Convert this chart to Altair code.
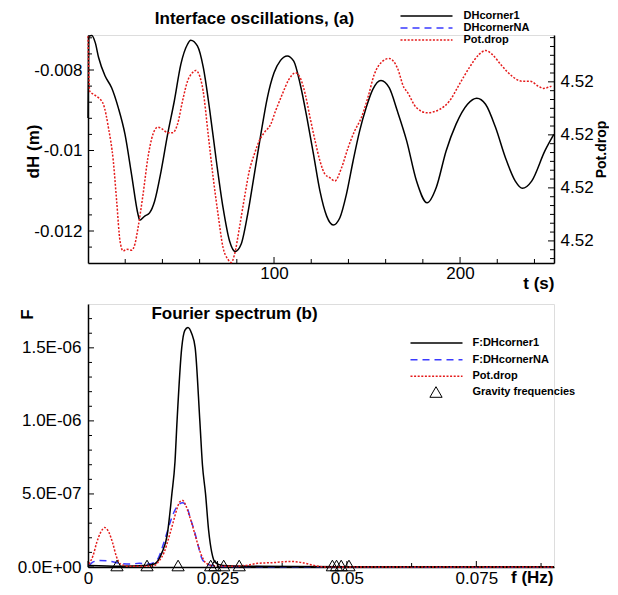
import altair as alt
import pandas as pd

# ---------------- Panel (a): interface oscillations ----------------
t_dh = [0.0, 0.4, 2.1, 3.9, 5.7, 9.2, 12.7, 16.3, 19.9, 23.4, 26.9, 27.8, 30.5, 33.1,
        35.8, 39.3, 42.8, 46.4, 49.9, 53.5, 55.2, 58.8, 62.0, 65.5, 69.0, 72.6, 76.1,
        79.1, 82.3, 85.8, 89.4, 92.9, 96.4, 100.0, 103.5, 107.1, 110.6, 114.1, 117.7,
        121.2, 124.7, 128.3, 131.8, 135.4, 138.9, 142.5, 146.0, 149.5, 153.1, 157.5,
        161.9, 166.3, 171.3, 176.6, 182.3, 187.2, 192.5, 197.8, 204.0, 209.0, 213.7,
        219.1, 224.4, 229.7, 233.5, 238.5, 245.6, 250.4]
dh_corner1 = [-0.00919, -0.00716, -0.00714, -0.00732, -0.00769, -0.00815, -0.00844,
              -0.00894, -0.00960, -0.01059, -0.01159, -0.01173, -0.01163, -0.01155,
              -0.01126, -0.01051, -0.00960, -0.00877, -0.00786, -0.00736, -0.00726,
              -0.00740, -0.00794, -0.00902, -0.01026, -0.01142, -0.01225, -0.01251,
              -0.01233, -0.01159, -0.01059, -0.00960, -0.00869, -0.00807, -0.00776,
              -0.00765, -0.00778, -0.00836, -0.00919, -0.01009, -0.01101, -0.01163,
              -0.01185, -0.01167, -0.01109, -0.01026, -0.00952, -0.00894, -0.00848,
              -0.00826, -0.00844, -0.00902, -0.00976, -0.01076, -0.01130, -0.01092,
              -0.01001, -0.00935, -0.00885, -0.00870, -0.00885, -0.00943, -0.01018,
              -0.01076, -0.01094, -0.01076, -0.01001, -0.00960]

t_pot = [0.0, 0.9, 3.0, 5.7, 8.3, 11.0, 13.6, 15.4, 17.2, 18.9, 20.7, 23.4, 25.2, 26.9,
         29.6, 32.2, 34.9, 37.5, 40.2, 42.8, 45.5, 48.1, 50.8, 53.5, 56.1, 57.9, 59.7,
         61.9, 64.6, 67.3, 69.9, 72.6, 75.2, 77.0, 78.8, 81.4, 84.1, 86.7, 89.4, 92.0,
         94.7, 98.2, 100.8, 104.4, 108.0, 111.5, 114.1, 116.8, 119.4, 122.1, 124.7,
         127.4, 130.0, 132.7, 136.3, 139.8, 143.3, 146.9, 150.4, 153.9, 158.4, 161.9,
         166.3, 169.9, 171.3, 176.6, 182.3, 189.0, 194.3, 199.6, 204.9, 210.2, 213.7,
         217.3, 222.6, 227.9, 233.2, 237.6, 242.0, 244.7, 249.1]
pot_drop = [4.5202317, 4.5201695, 4.5201658, 4.5201619, 4.5201545, 4.5201280, 4.5200904,
            4.5200452, 4.5200000, 4.5199887, 4.5199906, 4.5199895, 4.5199963, 4.5200150,
            4.5200528, 4.5200941, 4.5201206, 4.5201288, 4.5201262, 4.5201224, 4.5201224,
            4.5201319, 4.5201582, 4.5201808, 4.5201902, 4.5201929, 4.5201884, 4.5201695,
            4.5201206, 4.5200715, 4.5200302, 4.5199924, 4.5199793, 4.5199755, 4.5199850,
            4.5200150, 4.5200489, 4.5200791, 4.5200980, 4.5201130, 4.5201224, 4.5201319,
            4.5201469, 4.5201658, 4.5201827, 4.5201902, 4.5201845, 4.5201658, 4.5201393,
            4.5201130, 4.5200904, 4.5200754, 4.5200715, 4.5200678, 4.5200828, 4.5201054,
            4.5201243, 4.5201393, 4.5201619, 4.5201884, 4.5202034, 4.5202065, 4.5201958,
            4.5201732, 4.5201695, 4.5201506, 4.5201450, 4.5201488, 4.5201582, 4.5201771,
            4.5201958, 4.5202110, 4.5202155, 4.5202110, 4.5201978, 4.5201865, 4.5201808,
            4.5201808, 4.5201752, 4.5201726, 4.5201752]

# ---------------- Panel (b): Fourier spectrum ----------------
f_corner1 = [0.0002, 0.0061, 0.0109, 0.0128, 0.0143, 0.0153, 0.0162, 0.0168, 0.0172,
             0.0181, 0.0187, 0.0193, 0.0200, 0.0207, 0.0216, 0.0221, 0.0227, 0.0233,
             0.0239, 0.0246, 0.0261, 0.0309, 0.0400, 0.0600, 0.0900]
F_corner1 = [1.0e-8, 5e-9, 1.0e-8, 2.0e-8, 1.0e-7, 2.2e-7, 5.0e-7, 7.2e-7, 1.0e-6,
             1.5e-6, 1.62e-6, 1.64e-6, 1.60e-6, 1.50e-6, 1.0e-6, 7.0e-7, 5.0e-7, 2.5e-7,
             1.0e-7, 3e-8, 1e-8, 5e-9, 3e-9, 2e-9, 1e-9]

f_cornerNA = [0.0002, 0.0010, 0.0023, 0.0042, 0.0061, 0.0080, 0.0099, 0.0115, 0.0128,
              0.0137, 0.0145, 0.0153, 0.0160, 0.0168, 0.0176, 0.0183, 0.0191, 0.0198,
              0.0206, 0.0214, 0.0221, 0.0233, 0.0252, 0.0290, 0.0900]
F_cornerNA = [1e-8, 3.5e-8, 4.5e-8, 4e-8, 2.5e-8, 2e-8, 2.5e-8, 2e-8, 3e-8, 7e-8, 1.5e-7,
              2.4e-7, 3.2e-7, 3.9e-7, 4.3e-7, 4.4e-7, 4.1e-7, 3.3e-7, 2.4e-7, 1.3e-7,
              5e-8, 1.5e-8, 5e-9, 3e-9, 0.0]

f_pot = [0.0002, 0.0010, 0.0017, 0.0025, 0.0032, 0.0040, 0.0048, 0.0055, 0.0063, 0.0080,
         0.0109, 0.0128, 0.0137, 0.0147, 0.0156, 0.0164, 0.0172, 0.0177, 0.0183, 0.0189,
         0.0195, 0.0202, 0.0210, 0.0218, 0.0227, 0.0239, 0.0270, 0.0303, 0.0328, 0.0357,
         0.0391, 0.0414, 0.0437, 0.0460, 0.0900]
F_pot = [2e-8, 8e-8, 1.7e-7, 2.4e-7, 2.7e-7, 2.4e-7, 1.6e-7, 7e-8, 2e-8, 5e-9, 5e-9, 1e-8,
         4e-8, 1.0e-7, 2.0e-7, 3.0e-7, 4.0e-7, 4.45e-7, 4.55e-7, 4.2e-7, 3.6e-7, 2.8e-7,
         1.8e-7, 9e-8, 3e-8, 1e-8, 5e-9, 1e-8, 2.5e-8, 3e-8, 3.8e-8, 3e-8, 1e-8, 0.0, 0.0]

gravity_freqs = [0.0056, 0.0114, 0.0174, 0.0237, 0.0245, 0.0262, 0.0292,
                 0.0472, 0.0480, 0.0489, 0.0504]

# ---------------- tick values / labels ----------------
dh_major = [-0.012, -0.010, -0.008]
dh_minor = [-0.0124, -0.0116, -0.0112, -0.0108, -0.0104, -0.0096, -0.0092, -0.0088,
            -0.0084, -0.0076, -0.0072]
pot_major = [4.52, 4.52006, 4.52012, 4.52018]
pot_minor = [4.51998, 4.51999, 4.52001, 4.52002, 4.52003, 4.52004, 4.52005, 4.52007,
             4.52008, 4.52009, 4.52010, 4.52011, 4.52013, 4.52014, 4.52015, 4.52016,
             4.52017, 4.52019, 4.52020, 4.52021, 4.52022, 4.52023]
t_major = [100, 200]
t_minor = [20, 40, 60, 80, 120, 140, 160, 180, 220, 240]
F_major = [0.0, 5e-7, 1e-6, 1.5e-6]
F_minor = [1e-7, 2e-7, 3e-7, 4e-7, 6e-7, 7e-7, 8e-7, 9e-7, 1.1e-6, 1.2e-6, 1.3e-6,
           1.4e-6, 1.6e-6, 1.7e-6]
f_major = [0.0, 0.025, 0.05, 0.075]
f_minor = [0.0125, 0.0375, 0.0625, 0.0875]

# ---------------- styling ----------------
W = 466
H1 = 228
H2 = 263
LABEL_FONT = "Liberation Sans"
BLACK = "#000000"
BLUE = "#3a3aff"
RED = "#e41a1a"
RED_DASH = [2, 1.6]
BLUE_DASH = [7, 5]

t_dom = [0, 250.5]
dh_dom = [-0.012795, -0.00713]
pot_dom = [4.519975, 4.520233]
f_dom = [0, 0.09]
F_dom = [0, 1.8e-6]

one = pd.DataFrame({"k": [0]})


def sc(dom):
    return alt.Scale(domain=dom, nice=False, zero=False)


def text_at(txt, x, y, size, weight="bold", align="left"):
    return alt.Chart(one).mark_text(
        text=txt, fontSize=size, fontWeight=weight, align=align, baseline="middle",
        font=LABEL_FONT, color="black"
    ).encode(x=alt.value(x), y=alt.value(y))


def seg(x1, x2, y, color, dash=None, width=1.5):
    kw = dict(color=color, strokeWidth=width)
    if dash:
        kw["strokeDash"] = dash
    return alt.Chart(one).mark_rule(**kw).encode(
        x=alt.value(x1), x2=alt.value(x2), y=alt.value(y))


axis_common = dict(ticks=False, tickSize=0, grid=False, domainColor="black",
                   domainWidth=1.5, labelFont=LABEL_FONT, labelFontSize=17,
                   labelColor="black", labelFlush=False, labelOverlap=False,
                   titleFont=LABEL_FONT, titleFontWeight="bold", titleColor="black")

# shared axis definitions (identical object in every layer that shares the scale)
x_top_axis = alt.Axis(values=t_major, labelPadding=2, title="t (s)", titleFontSize=17,
                      titleX=W, titleY=20, titleAlign="right", titleBaseline="middle",
                      **axis_common)
x_bot_axis = alt.Axis(values=f_major, labelExpr="format(datum.value, '.3~g')",
                      labelPadding=3, title="f (Hz)",
                      titleFontSize=17, titleX=W - 1, titleY=10, titleAlign="right",
                      titleBaseline="middle", **axis_common)
y_bot_axis = alt.Axis(values=F_major,
                      labelExpr="upper(replace(replace(format(datum.value, '.1e'), 'e-', 'e-0'), 'e+', 'e+0'))",
                      labelPadding=7, title="F", titleFontSize=17, titleAngle=270,
                      titleX=-61, titleY=10, titleAlign="center", titleBaseline="middle",
                      **axis_common)


def yticks(vals, dom, x_edge, length, inward=1):
    df = pd.DataFrame({"v": vals})
    return alt.Chart(df).mark_rule(color="black", strokeWidth=1).encode(
        y=alt.Y("v:Q", scale=sc(dom), axis=None),
        x=alt.value(x_edge), x2=alt.value(x_edge + inward * length))


def xticks(vals, dom, axis, height, length):
    df = pd.DataFrame({"v": vals})
    return alt.Chart(df).mark_rule(color="black", strokeWidth=1).encode(
        x=alt.X("v:Q", scale=sc(dom), axis=axis),
        y=alt.value(height), y2=alt.value(height - length))


# ---------------- top panel ----------------
df_dh = pd.DataFrame({"t": t_dh, "dH": dh_corner1})
df_pot = pd.DataFrame({"t": t_pot, "pot": pot_drop})

line_dh = alt.Chart(df_dh).mark_line(color=BLACK, strokeWidth=1.5, interpolate="monotone").encode(
    x=alt.X("t:Q", scale=sc(t_dom), axis=x_top_axis),
    y=alt.Y("dH:Q", scale=sc(dh_dom), axis=alt.Axis(
        orient="left", values=dh_major, labelExpr="'-' + format(-datum.value, '.3~f')",
        labelPadding=6, title="dH (m)", titleFontSize=17, titleAngle=270, titleX=-55,
        titleY=116, titleAlign="center", titleBaseline="middle", **axis_common)),
)

line_pot = alt.Chart(df_pot).mark_line(color=RED, strokeWidth=1.5, strokeDash=RED_DASH,
                                       interpolate="monotone").encode(
    x=alt.X("t:Q", scale=sc(t_dom), axis=x_top_axis),
    y=alt.Y("pot:Q", scale=sc(pot_dom), axis=alt.Axis(
        orient="right", values=pot_major, format=".2f", labelPadding=6,
        title="Pot.drop", titleFontSize=14, titleAngle=270, titleX=47, titleY=114,
        titleAlign="center", titleBaseline="middle", **axis_common)),
)

# white hairline fixing the top extent of the panel (keeps legend inside the page)
top_anchor = alt.Chart(one).mark_rule(color="white", strokeWidth=1).encode(
    x=alt.value(0), x2=alt.value(1), y=alt.value(-25.5))

top_layers = [
    top_anchor,
    line_dh,
    line_pot,
    yticks(dh_major, dh_dom, 0, 6),
    yticks(dh_minor, dh_dom, 0, 4),
    yticks(pot_major, pot_dom, W, 6, -1),
    yticks(pot_minor, pot_dom, W, 4, -1),
    xticks(t_major, t_dom, x_top_axis, H1, 6),
    xticks(t_minor, t_dom, x_top_axis, H1, 4),
    text_at("Interface oscillations,  (a)", 166.5, -16, 17, align="center"),
    seg(312.5, 364.5, -19, BLACK),
    seg(312.5, 364.5, -7, BLUE, BLUE_DASH),
    seg(312.5, 364.5, 5, RED, RED_DASH),
    text_at("DHcorner1", 375.5, -19, 11),
    text_at("DHcornerNA", 375.5, -7, 11),
    text_at("Pot.drop", 375.5, 5, 11),
]

top = alt.layer(*top_layers).resolve_scale(y="independent").properties(width=W, height=H1)

# ---------------- bottom panel ----------------
df_c1 = pd.DataFrame({"f": f_corner1, "F": F_corner1})
df_na = pd.DataFrame({"f": f_cornerNA, "F": F_cornerNA})
df_pd = pd.DataFrame({"f": f_pot, "F": F_pot})
df_g = pd.DataFrame({"f": gravity_freqs, "F": [0.0] * len(gravity_freqs)})


def fx():
    return alt.X("f:Q", scale=sc(f_dom), axis=x_bot_axis)


def fy(field="F:Q"):
    return alt.Y(field, scale=sc(F_dom), axis=y_bot_axis)


spec_na = alt.Chart(df_na).mark_line(color=BLUE, strokeWidth=1.5, strokeDash=BLUE_DASH,
                                     interpolate="monotone").encode(x=fx(), y=fy())
spec_c1 = alt.Chart(df_c1).mark_line(color=BLACK, strokeWidth=1.5,
                                     interpolate="monotone").encode(x=fx(), y=fy())
spec_pd = alt.Chart(df_pd).mark_line(color=RED, strokeWidth=1.5, strokeDash=RED_DASH,
                                     interpolate="monotone").encode(x=fx(), y=fy())
grav = alt.Chart(df_g).mark_point(shape="triangle-up", size=150, filled=False, color="black",
                                  strokeWidth=1, yOffset=-1.5, opacity=1).encode(x=fx(), y=fy())


def fyticks(vals, length):
    df = pd.DataFrame({"F": vals})
    return alt.Chart(df).mark_rule(color="black", strokeWidth=1).encode(
        y=fy(), x=alt.value(0), x2=alt.value(length))


def fxticks(vals, length):
    df = pd.DataFrame({"f": vals})
    return alt.Chart(df).mark_rule(color="black", strokeWidth=1).encode(
        x=fx(), y=alt.value(H2), y2=alt.value(H2 - length))


legend_tri = alt.Chart(one).mark_point(shape="triangle-up", size=150, filled=False,
                                       color="black", strokeWidth=1, opacity=1).encode(
    x=alt.value(348), y=alt.value(88))

bottom_layers = [
    spec_na,
    spec_c1,
    spec_pd,
    grav,
    fyticks(F_major, 6),
    fyticks(F_minor, 4),
    fxticks(f_major, 6),
    fxticks(f_minor, 4),
    text_at("Fourier spectrum (b)", 146.5, 10, 17, align="center"),
    seg(322.5, 374.5, 39, BLACK),
    seg(322.5, 374.5, 55.7, BLUE, BLUE_DASH),
    seg(322.5, 374.5, 72.3, RED, RED_DASH),
    legend_tri,
    text_at("F:DHcorner1", 384.5, 39, 11),
    text_at("F:DHcornerNA", 384.5, 55.7, 11),
    text_at("Pot.drop", 384.5, 72.3, 11),
    text_at("Gravity frequencies", 384.5, 88, 11),
]

bottom = alt.layer(*bottom_layers).properties(width=W, height=H2)

chart = alt.vconcat(top, bottom, spacing=11).properties(
    padding={"left": 8, "top": 0, "right": 0, "bottom": 0}
).configure_view(stroke=None).configure(background="white")

chart.save("out.html", embed_options={"renderer": "svg", "actions": False})
